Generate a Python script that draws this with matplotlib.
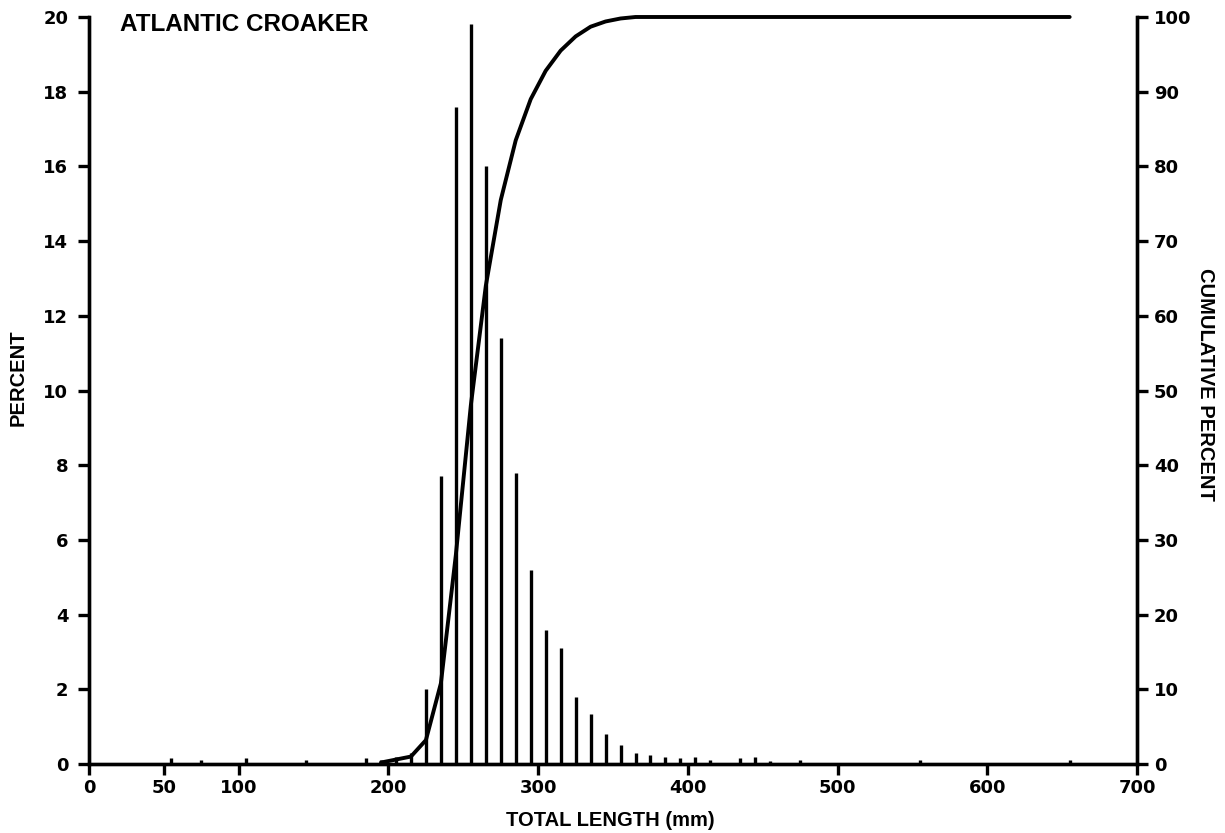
import numpy as np
import matplotlib
matplotlib.use("Agg")
import matplotlib.pyplot as plt

# length-frequency of Atlantic croaker, 10 mm classes (class midpoints)
length_mm = [55, 75, 105, 145, 185, 195, 205, 215, 225, 235, 245, 255, 265,
             275, 285, 295, 305, 315, 325, 335, 345, 355, 365, 375, 385, 395,
             405, 415, 435, 445, 455, 475, 555, 655]
percent = [0.15, 0.1, 0.15, 0.1, 0.15, 0.1, 0.2, 0.3, 2.0, 7.7, 17.6, 19.8,
           16.0, 11.4, 7.8, 5.2, 3.6, 3.1, 1.8, 1.35, 0.8, 0.5, 0.3, 0.25,
           0.2, 0.15, 0.2, 0.12, 0.15, 0.2, 0.08, 0.12, 0.12, 0.12]

# cumulative percent curve
cum_mm = [195, 205, 215, 225, 235, 245, 255, 265, 275, 285, 295, 305, 315,
          325, 335, 345, 355, 365, 655]
cum_percent = [0.2, 0.6, 1.0, 3.2, 10.8, 28.0, 48.0, 64.0, 75.5, 83.5, 89.0,
               92.8, 95.5, 97.4, 98.7, 99.4, 99.8, 100.0, 100.0]

x_ticks = [0, 50, 100, 200, 300, 400, 500, 600, 700]
left_ticks = list(range(0, 21, 2))
right_ticks = list(range(0, 101, 10))

tick_font = dict(family="DejaVu Sans", weight="bold", size=13)
label_kw = dict(family="Liberation Sans", weight="bold", size=14.5)

fig = plt.figure(figsize=(12.25, 8.33), dpi=100)
ax = fig.add_axes([0.0727, 0.0828, 0.8555, 0.8968])
ax2 = ax.twinx()

lw = 2.4
ax.vlines(length_mm, 0, percent, color="black", linewidth=lw)
ax2.plot(cum_mm, cum_percent, color="black", linewidth=2.8,
         solid_joinstyle="round", solid_capstyle="round", clip_on=False)

ax.set_xlim(0, 700)
ax.set_ylim(0, 20)
ax2.set_ylim(0, 100)

for a in (ax, ax2):
    a.spines["top"].set_visible(False)
    for s in ("left", "right", "bottom"):
        a.spines[s].set_linewidth(lw)

ax.set_xticks(x_ticks)
ax.set_xticklabels([str(v) for v in x_ticks], fontdict=tick_font)
ax.set_yticks(left_ticks)
ax.set_yticklabels([str(v) for v in left_ticks], fontdict=tick_font)
ax2.set_yticks(right_ticks)
ax2.set_yticklabels([str(v) for v in right_ticks], fontdict=tick_font)

ax.tick_params(axis="x", direction="out", length=8, width=lw, pad=3)
ax.tick_params(axis="y", direction="out", length=8, width=lw, pad=7)
ax2.tick_params(axis="y", direction="out", length=8, width=lw, pad=4)

fig.text(0.498, 0.0156, "TOTAL LENGTH (mm)", ha="center", va="center",
         **label_kw)
fig.text(0.0147, 0.546, "PERCENT", ha="center", va="center", rotation=90,
         **label_kw)
fig.text(0.9837, 0.538, "CUMULATIVE PERCENT", ha="center", va="center",
         rotation=-90, **label_kw)

ax.text(0.03, 0.99, "ATLANTIC CROAKER", transform=ax.transAxes,
        ha="left", va="center", family="Liberation Sans", weight="bold",
        size=17.5)

fig.savefig("out.png", dpi=100)
